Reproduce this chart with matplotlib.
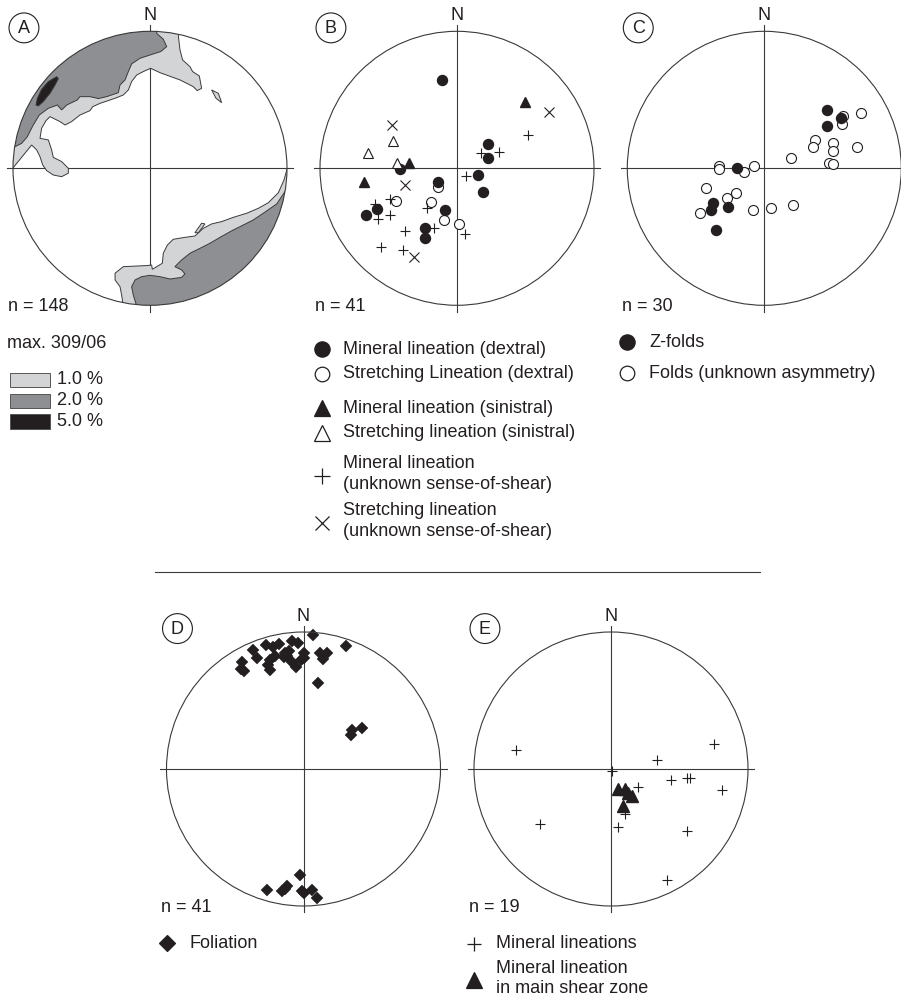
import matplotlib

matplotlib.use("Agg")
import matplotlib.pyplot as plt
from matplotlib.patches import Circle, Polygon, Rectangle

plt.rcParams["font.family"] = ["Liberation Sans", "DejaVu Sans"]

INK = "#231f20"
LINE = "#3a3a3a"
GREY_1, GREY_2, GREY_5 = "#d3d4d6", "#8e8f92", "#231f20"
FS = 13

# ---------------------------------------------------------------------------
# data: projected positions on the unit net (x = east, y = north, rim = 1)
# ---------------------------------------------------------------------------
# A: density contours (inner boundaries, rim closes them)
A_UP_1 = [(0.207, 0.966), (0.219, 0.864), (0.238, 0.791), (0.292, 0.742), (0.311, 0.706),
          (0.360, 0.674), (0.377, 0.584), (0.345, 0.567), (0.316, 0.596), (0.219, 0.645),
          (0.073, 0.698), (0.005, 0.730), (-0.049, 0.706), (-0.097, 0.681), (-0.134, 0.633),
          (-0.158, 0.572), (-0.195, 0.535), (-0.255, 0.511), (-0.365, 0.474), (-0.418, 0.450),
          (-0.438, 0.421), (-0.511, 0.389), (-0.572, 0.341), (-0.620, 0.316), (-0.657, 0.341),
          (-0.730, 0.377), (-0.759, 0.348), (-0.791, 0.292), (-0.803, 0.219), (-0.742, 0.207),
          (-0.718, 0.134), (-0.706, 0.080), (-0.645, 0.049), (-0.596, 0.000), (-0.596, -0.036),
          (-0.645, -0.061), (-0.706, -0.049), (-0.754, -0.017), (-0.783, 0.024), (-0.803, 0.085),
          (-0.827, 0.134), (-0.864, 0.170), (-1.002, 0.000),
          (-1.3, 0.0), (-1.3, 1.3), (0.27, 1.26)]
A_UP_2 = [(0.049, 0.985), (0.097, 0.942), (0.122, 0.888), (0.078, 0.852), (0.000, 0.827),
          (-0.073, 0.803), (-0.134, 0.762), (-0.158, 0.706), (-0.182, 0.645), (-0.219, 0.608),
          (-0.231, 0.552), (-0.316, 0.523), (-0.377, 0.509), (-0.438, 0.523), (-0.511, 0.523),
          (-0.530, 0.499), (-0.608, 0.462), (-0.645, 0.426), (-0.676, 0.462), (-0.742, 0.438),
          (-0.808, 0.389), (-0.856, 0.309), (-0.895, 0.231), (-0.937, 0.182), (-0.985, 0.158),
          (-1.3, 0.21), (-1.3, 1.3), (0.06, 1.3)]
A_UP_5 = [(-0.832, 0.462), (-0.822, 0.511), (-0.791, 0.577), (-0.742, 0.633), (-0.681, 0.669),
          (-0.669, 0.655), (-0.693, 0.608), (-0.730, 0.547), (-0.779, 0.487), (-0.815, 0.455)]
A_LOW_1 = [(1.002, 0.000), (0.978, -0.085), (0.937, -0.178), (0.864, -0.251), (0.791, -0.292),
           (0.706, -0.328), (0.608, -0.358), (0.523, -0.389), (0.450, -0.406), (0.389, -0.438),
           (0.328, -0.494), (0.255, -0.504), (0.170, -0.518), (0.127, -0.560), (0.097, -0.620),
           (0.090, -0.693), (0.049, -0.718), (0.017, -0.737), (0.012, -0.706), (-0.024, -0.710),
           (-0.195, -0.718), (-0.255, -0.766), (-0.255, -0.815), (-0.219, -0.864), (-0.207, -0.925),
           (-0.200, -0.973), (-0.26, -1.3), (1.3, -1.3), (1.3, 0.0)]
A_LOW_2 = [(0.985, -0.170), (0.925, -0.260), (0.827, -0.328), (0.754, -0.377), (0.657, -0.426),
           (0.608, -0.450), (0.511, -0.504), (0.438, -0.547), (0.365, -0.584), (0.292, -0.620),
           (0.231, -0.669), (0.182, -0.718), (0.231, -0.742), (0.255, -0.771), (0.231, -0.796),
           (0.146, -0.808), (0.073, -0.791), (0.000, -0.781), (-0.061, -0.791), (-0.109, -0.815),
           (-0.134, -0.864), (-0.122, -0.925), (-0.102, -0.990), (-0.13, -1.3), (1.3, -1.3),
           (1.3, -0.22)]
A_ISLANDS_1 = [[(0.450, 0.572), (0.499, 0.547), (0.523, 0.479), (0.482, 0.511)],
               [(0.328, -0.470), (0.377, -0.401), (0.401, -0.406), (0.353, -0.470)]]
A_LEVELS = ["1.0 %", "2.0 %", "5.0 %"]

# B: lineations
B_MIN_DEX_X = [-0.112, 0.224, 0.224, 0.156, 0.187, -0.416, -0.141, -0.088, -0.664, -0.582, -0.234, -0.234]
B_MIN_DEX_Y = [0.645, 0.178, 0.073, -0.049, -0.170, -0.007, -0.097, -0.304, -0.341, -0.297, -0.438, -0.511]
B_STR_DEX_X = [-0.141, -0.445, -0.192, -0.095, 0.017]
B_STR_DEX_Y = [-0.134, -0.238, -0.243, -0.377, -0.409]
B_MIN_SIN_X = [0.496, -0.348, -0.679]
B_MIN_SIN_Y = [0.487, 0.036, -0.097]
B_STR_SIN_X = [-0.465, -0.647, -0.436]
B_STR_SIN_Y = [0.202, 0.109, 0.036]
B_MIN_UNK_X = [0.521, 0.309, 0.175, 0.066, -0.489, -0.599, -0.574, -0.489, -0.221, -0.168, -0.380,
               -0.555, -0.392, 0.058]
B_MIN_UNK_Y = [0.243, 0.117, 0.109, -0.054, -0.226, -0.260, -0.370, -0.341, -0.292, -0.438, -0.457,
               -0.572, -0.596, -0.479]
B_STR_UNK_X = [0.674, -0.477, -0.380, -0.314]
B_STR_UNK_Y = [0.409, 0.316, -0.122, -0.650]

# C: fold axes
C_Z_X = [0.455, 0.455, 0.557, -0.197, -0.372, -0.389, -0.263, -0.353]
C_Z_Y = [0.426, 0.309, 0.365, 0.005, -0.251, -0.304, -0.285, -0.450]
C_UNK_X = [0.577, 0.564, 0.703, 0.372, 0.353, 0.499, 0.499, 0.674, 0.192, 0.470, 0.499, -0.328,
           -0.328, -0.073, -0.146, -0.426, -0.207, -0.270, -0.470, -0.080, 0.051, 0.212]
C_UNK_Y = [0.382, 0.324, 0.406, 0.207, 0.153, 0.182, 0.129, 0.158, 0.078, 0.036, 0.029, 0.017,
           -0.002, 0.017, -0.027, -0.146, -0.182, -0.214, -0.328, -0.304, -0.292, -0.268]

# D: foliation poles
D_FOL_X = [0.068, 0.310, -0.371, -0.274, -0.225, -0.177, -0.086, -0.038, -0.342, -0.451, -0.459,
           -0.434, -0.247, -0.210, -0.247, -0.135, -0.104, -0.118, -0.086, -0.053, -0.016, 0.006,
           0.120, 0.169, 0.145, 0.108, -0.145, -0.262, 0.000,
           0.353, 0.426, 0.348,
           -0.024, -0.268, -0.158, -0.122, -0.134, -0.012, 0.000, 0.061, 0.102]
D_FOL_Y = [0.978, 0.900, 0.869, 0.905, 0.888, 0.910, 0.934, 0.917, 0.808, 0.783, 0.728,
           0.718, 0.796, 0.825, 0.723, 0.844, 0.864, 0.825, 0.783, 0.747, 0.796, 0.849,
           0.849, 0.844, 0.801, 0.630, 0.815, 0.759, 0.810,
           0.287, 0.299, 0.251,
           -0.771, -0.886, -0.888, -0.852, -0.876, -0.888, -0.905, -0.881, -0.942]

# E: mineral lineations
E_MIN_X = [-0.693, 0.752, 0.338, 0.005, 0.436, 0.557, 0.577, 0.808, 0.195, 0.102, 0.054, -0.518, 0.552, 0.411]
E_MIN_Y = [0.136, 0.185, 0.068, -0.017, -0.083, -0.066, -0.066, -0.151, -0.134, -0.326, -0.426, -0.399, -0.455, -0.808]
E_SHEAR_X = [0.054, 0.102, 0.127, 0.151, 0.090]
E_SHEAR_Y = [-0.146, -0.146, -0.175, -0.199, -0.268]

N_COUNTS = {"A": 148, "B": 41, "C": 30, "D": 41, "E": 19}

# ---------------------------------------------------------------------------
W_PX, H_PX, R_PX, L = 901, 998, 137, 1.3
CENTRES = {"A": (150, 168.3), "B": (457, 168.3), "C": (764.3, 168.3),
           "D": (303.5, 769), "E": (611, 769)}

fig = plt.figure(figsize=(W_PX / 100, H_PX / 100), dpi=100)
fig.patch.set_facecolor("white")


def net_axes(letter):
    cx, cy = CENTRES[letter]
    ax = fig.add_axes([(cx - L * R_PX) / W_PX, (H_PX - cy - L * R_PX) / H_PX,
                       2 * L * R_PX / W_PX, 2 * L * R_PX / H_PX])
    ax.set_xlim(-L, L)
    ax.set_ylim(-L, L)
    ax.set_aspect("equal")
    ax.axis("off")
    ax.patch.set_alpha(0)
    ax.plot([-1.047, 1.047], [0, 0], color=LINE, lw=0.8, zorder=1)
    ax.plot([0, 0], [-1.047, 1.047], color=LINE, lw=0.8, zorder=1)
    ax.add_patch(Circle((0, 0), 1, fill=False, ec=LINE, lw=0.8, zorder=5))
    ax.text(0, 1.115, "N", ha="center", va="center", fontsize=FS, color=INK)
    ax.add_patch(Circle((-0.92, 1.025), 0.109, fill=False, ec=INK, lw=0.8, clip_on=False))
    ax.text(-0.92, 1.02, letter, ha="center", va="center", fontsize=FS, color=INK)
    ax.text(-1.04, -1.01, f"n = {N_COUNTS[letter]}", ha="left", va="center",
            fontsize=FS, color=INK)
    return ax


# A ---------------------------------------------------------------------------
ax = net_axes("A")
rim = Circle((0, 0), 1, transform=ax.transData)
for verts, fc in [(A_UP_1, GREY_1), (A_UP_2, GREY_2), (A_UP_5, GREY_5),
                  (A_LOW_1, GREY_1), (A_LOW_2, GREY_2)] + [(v, GREY_1) for v in A_ISLANDS_1]:
    poly = Polygon(verts, closed=True, fc=fc, ec=LINE, lw=0.7, zorder=2)
    ax.add_patch(poly)
    poly.set_clip_path(rim)

# B ---------------------------------------------------------------------------
ax = net_axes("B")
mk = dict(ls="none", zorder=3)
ax.plot(B_STR_DEX_X, B_STR_DEX_Y, marker="o", ms=7.2, mfc="white", mec=INK, mew=0.8, **mk)
ax.plot(B_MIN_DEX_X, B_MIN_DEX_Y, marker="o", ms=7.2, mfc=INK, mec=INK, **mk)
ax.plot(B_MIN_SIN_X, B_MIN_SIN_Y, marker="^", ms=7.8, mfc=INK, mec=INK, **mk)
ax.plot(B_STR_SIN_X, B_STR_SIN_Y, marker="^", ms=7.8, mfc="white", mec=INK, mew=0.8, **mk)
ax.plot(B_MIN_UNK_X, B_MIN_UNK_Y, marker="+", ms=6.5, mec=INK, mew=0.8, **mk)
ax.plot(B_STR_UNK_X, B_STR_UNK_Y, marker="x", ms=7.2, mec=INK, mew=0.8, **mk)

# C ---------------------------------------------------------------------------
ax = net_axes("C")
ax.plot(C_UNK_X, C_UNK_Y, marker="o", ms=7.2, mfc="white", mec=INK, mew=0.8, **mk)
ax.plot(C_Z_X, C_Z_Y, marker="o", ms=7.2, mfc=INK, mec=INK, **mk)

# D ---------------------------------------------------------------------------
ax = net_axes("D")
ax.plot(D_FOL_X, D_FOL_Y, marker="D", ms=6.6, mfc=INK, mec=INK, mew=0.3, **mk)

# E ---------------------------------------------------------------------------
ax = net_axes("E")
ax.plot(E_MIN_X, E_MIN_Y, marker="+", ms=6.5, mec=INK, mew=0.8, **mk)
ax.plot(E_SHEAR_X, E_SHEAR_Y, marker="^", ms=8.8, mfc=INK, mec=INK, **mk)

# overlay: separator and keys (pixel layout)
ov = fig.add_axes([0, 0, 1, 1])
ov.set_xlim(0, W_PX)
ov.set_ylim(H_PX, 0)
ov.axis("off")
ov.patch.set_alpha(0)
ov.plot([155, 760], [571.7, 571.7], color=LINE, lw=0.8)

ov.text(7, 343, "max. 309/06", ha="left", va="center", fontsize=FS, color=INK)
for i, (lab, fc) in enumerate(zip(A_LEVELS, [GREY_1, GREY_2, GREY_5])):
    yc = 380 + i * 20.8
    ov.add_patch(Rectangle((9.5, yc - 7.3), 40.5, 14.6, fc=fc, ec="#555555", lw=0.7))
    ov.text(57, yc, lab, ha="left", va="center", fontsize=FS, color=INK)


def key(x, y, marker, ms, filled, labels, ys, tx):
    ov.plot([x], [y], marker=marker, ms=ms, ls="none",
            mfc=INK if filled else "white", mec=INK, mew=0.9)
    for lab, yy in zip(labels, ys):
        ov.text(tx, yy, lab, ha="left", va="center", fontsize=FS, color=INK)


key(322, 349.3, "o", 11, True, ["Mineral lineation (dextral)"], [349.3], 343.3)
key(322, 374, "o", 10.5, False, ["Stretching Lineation (dextral)"], [374], 343.3)
key(322, 408.3, "^", 11.5, True, ["Mineral lineation (sinistral)"], [408.3], 343.3)
key(322, 432.7, "^", 11, False, ["Stretching lineation (sinistral)"], [432.7], 343.3)
key(322, 476, "+", 11.5, False, ["Mineral lineation", "(unknown sense-of-shear)"], [463.3, 484.3], 343.3)
key(322, 523.3, "x", 10.5, False, ["Stretching lineation", "(unknown sense-of-shear)"], [510.7, 531.7], 343.3)

key(627.3, 342.3, "o", 11, True, ["Z-folds"], [342.3], 649.3)
key(627.3, 373.3, "o", 10.5, False, ["Folds (unknown asymmetry)"], [373.3], 649.3)

key(166.7, 943.3, "D", 8.5, True, ["Foliation"], [943.3], 189.3)

key(474, 944, "+", 10, False, ["Mineral lineations"], [944], 496)
key(474, 980, "^", 11.5, True, ["Mineral lineation", "in main shear zone"], [968.3, 988.3], 496)

fig.savefig("out.png", dpi=100, facecolor="white")
